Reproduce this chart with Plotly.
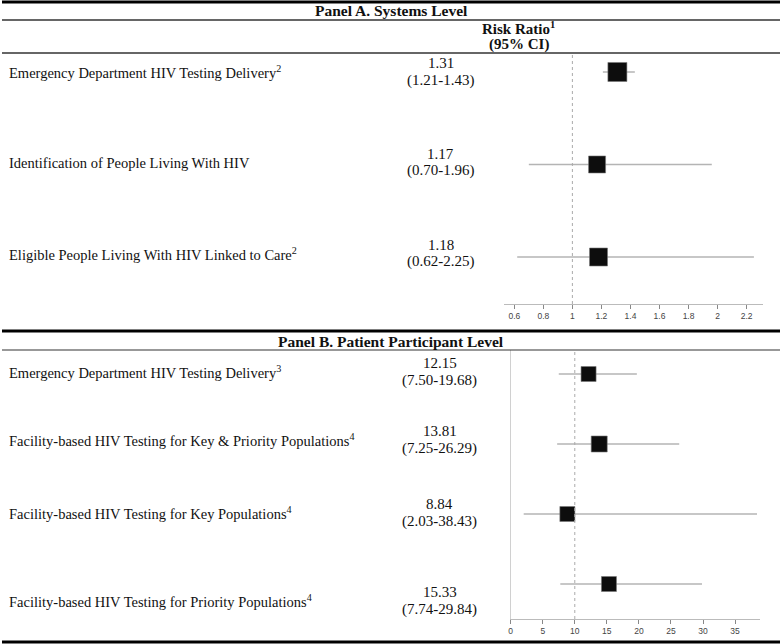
import plotly.graph_objects as go

W, H = 780, 644

# ---- data ----
a_labels = [
    "Emergency Department HIV Testing Delivery<sup>2</sup>",
    "Identification of People Living With HIV",
    "Eligible People Living With HIV Linked to Care<sup>2</sup>",
]
a_rr = [1.31, 1.17, 1.18]
a_lo = [1.21, 0.70, 0.62]
a_hi = [1.43, 1.96, 2.25]
a_ticks = [0.6, 0.8, 1, 1.2, 1.4, 1.6, 1.8, 2, 2.2]

b_labels = [
    "Emergency Department HIV Testing Delivery<sup>3</sup>",
    "Facility-based HIV Testing for Key & Priority Populations<sup>4</sup>",
    "Facility-based HIV Testing for Key Populations<sup>4</sup>",
    "Facility-based HIV Testing for Priority Populations<sup>4</sup>",
]
b_rr = [12.15, 13.81, 8.84, 15.33]
b_lo = [7.50, 7.25, 2.03, 7.74]
b_hi = [19.68, 26.29, 38.43, 29.84]
b_ticks = [0, 5, 10, 15, 20, 25, 30, 35]

# ---- styling (pixel layout helpers) ----
a_sizes = [19, 17, 18]
b_sizes = [15, 16, 15, 15]
a_text_y = [72, 163, 254]
b_text_y = [372, 440, 513, 601]


def px(x):
    return x / W


def py(y):
    return 1 - y / H


SERIF = "Liberation Serif"
SANS = "Liberation Sans"

fig = go.Figure()


def add_panel(rr, lo, hi, sizes, xa, ya):
    cats = list(range(len(rr)))
    fig.add_trace(go.Scatter(
        x=rr, y=cats, mode="markers", xaxis=xa, yaxis=ya,
        marker=dict(symbol="square", size=sizes, color="#0d0d0d", opacity=1,
                    line=dict(color="#777777", width=0.6)),
        error_x=dict(type="data", symmetric=False,
                     array=[h - r for h, r in zip(hi, rr)],
                     arrayminus=[r - l for r, l in zip(rr, lo)],
                     color="#b4b4b4", thickness=1.4, width=0),
        showlegend=False, hoverinfo="skip",
    ))


add_panel(a_rr, a_lo, a_hi, a_sizes, "x", "y")
add_panel(b_rr, b_lo, b_hi, b_sizes, "x2", "y2")

axis_common = dict(showgrid=False, zeroline=False, ticks="outside", ticklen=4,
                   tickcolor="#888888", linecolor="#bbbbbb", showline=True,
                   tickfont=dict(family=SANS, size=8.5, color="#444444"))

fig.update_layout(
    width=W, height=H, margin=dict(l=0, r=0, t=0, b=0),
    paper_bgcolor="white", plot_bgcolor="white",
    xaxis=dict(domain=[px(503), px(763)], range=[0.527, 2.313], tickvals=a_ticks,
               anchor="y", **axis_common),
    yaxis=dict(domain=[py(304), py(53)], range=[2.508, -0.205], visible=False,
               anchor="x"),
    xaxis2=dict(domain=[px(510), px(760)], range=[0, 38.9], tickvals=b_ticks,
                anchor="y2", **axis_common),
    yaxis2=dict(domain=[py(619), py(350)], range=[3.5, -0.343], anchor="x2",
                showline=True, linecolor="#d0d0d0", showticklabels=False,
                ticks="", showgrid=False, zeroline=False),
)

# reference lines (RR = 1 and 10)
fig.add_shape(type="line", xref="x", yref="paper", x0=1, x1=1, y0=py(304), y1=py(53),
              line=dict(color="#aaaaaa", width=1, dash="dot"))
fig.add_shape(type="line", xref="x2", yref="paper", x0=10, x1=10, y0=py(619), y1=py(350),
              line=dict(color="#aaaaaa", width=1, dash="dot"))

# table rules
for y, w, c in [(2, 3, "#000000"), (20, 1.5, "#333333"), (53, 1.5, "#333333"),
                (331, 3, "#000000"), (350, 1.2, "#333333"), (642, 3, "#000000")]:
    fig.add_shape(type="line", xref="paper", yref="paper", x0=0, x1=1,
                  y0=py(y), y1=py(y), line=dict(color=c, width=w))

ann = []


def text(x, y, s, size, anchor="center", bold=False):
    ann.append(dict(x=px(x), y=py(y), xref="paper", yref="paper", text=s,
                    showarrow=False, xanchor=anchor, yanchor="middle",
                    font=dict(family=SERIF, size=size, color="#111111",
                              weight="bold" if bold else "normal")))


text(390, 11, "Panel A. Systems Level", 15.5, bold=True)
text(518, 28, "Risk Ratio<sup>1</sup>", 15, bold=True)
text(518, 45, "(95% CI)", 15, bold=True)
text(390, 341, "Panel B. Patient Participant Level", 15.5, bold=True)

for lab, r, l, h, y in zip(a_labels, a_rr, a_lo, a_hi, a_text_y):
    text(5, y, lab, 14.5, anchor="left")
    text(440, y - 9, f"{r:.2f}", 15)
    text(440, y + 8, f"({l:.2f}-{h:.2f})", 15)

for lab, r, l, h, y in zip(b_labels, b_rr, b_lo, b_hi, b_text_y):
    text(5, y, lab, 14.5, anchor="left")
    text(439, y - 9, f"{r:.2f}", 15)
    text(439, y + 8, f"({l:.2f}-{h:.2f})", 15)

fig.update_layout(annotations=ann)

fig.write_html("out.html", config={"displayModeBar": False},
               post_script="document.body.style.margin='0px';")
